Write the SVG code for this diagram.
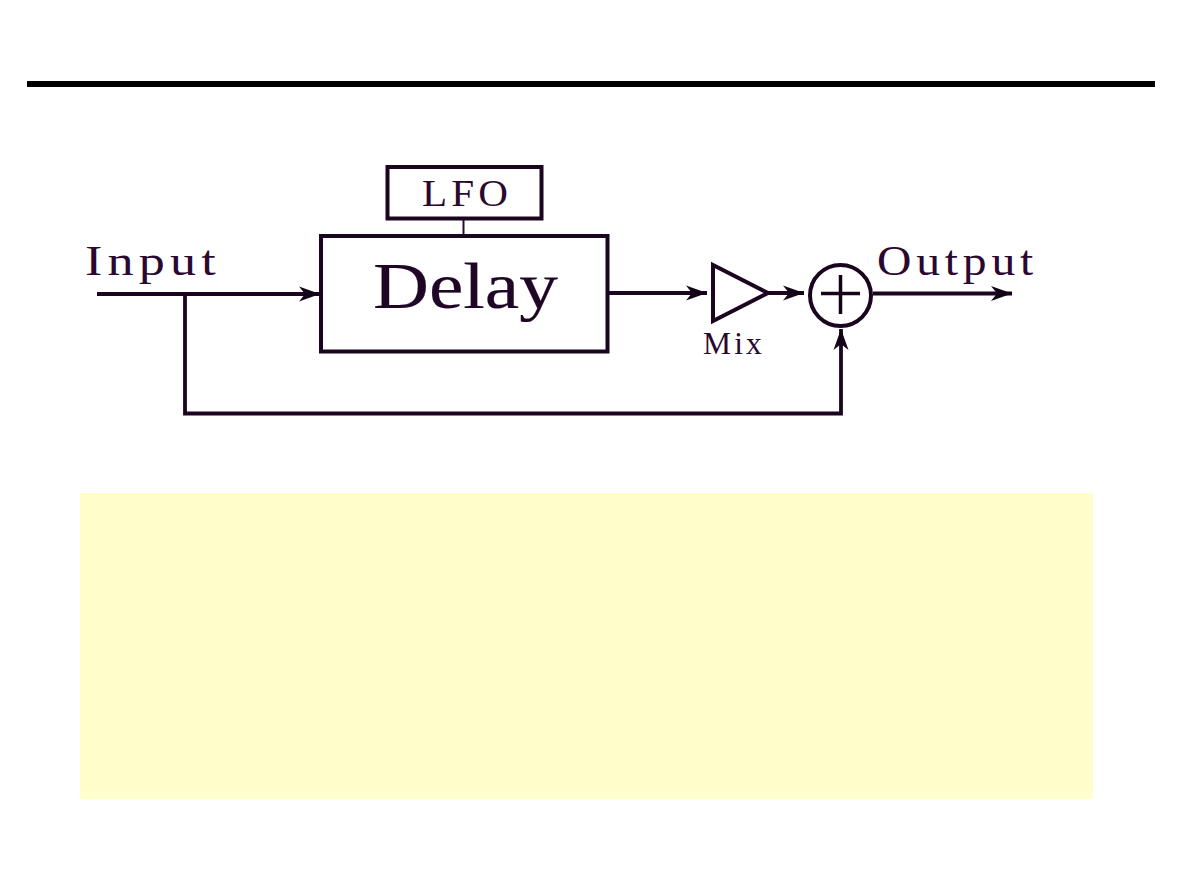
<svg xmlns="http://www.w3.org/2000/svg" width="1190" height="893" viewBox="0 0 1190 893">
<style>
.box{fill:#fff;stroke:#1a0420;stroke-width:4}
.wire{fill:none;stroke:#1a0420;stroke-width:3.8}
.lbl{font-family:"Liberation Serif","DejaVu Serif",serif;fill:#2a0830;letter-spacing:.1em}
</style>
<defs>
<marker id="arrow" markerUnits="userSpaceOnUse" markerWidth="24" markerHeight="18" refX="22" refY="9" orient="auto">
<path d="M1 1.500 L22 9 L1 16.500 L7 9 Z" fill="#140218"/>
</marker>
</defs>
<rect width="1190" height="893" fill="#fff"/>
<rect id="rule" x="27" y="81" width="1128" height="6" fill="#000"/>
<rect id="panel" x="80" y="493" width="1013" height="306" fill="#ffffcc"/>
<g id="connectors">
<path class="wire" d="M97 294H320" marker-end="url(#arrow)"/>
<path class="wire" d="M185 294V413.500H841V329" marker-end="url(#arrow)"/>
<path class="wire" d="M608 293H707" marker-end="url(#arrow)"/>
<path class="wire" d="M768 293H804" marker-end="url(#arrow)"/>
<path class="wire" d="M873 293.500H1012" marker-end="url(#arrow)"/>
<path d="M463.500 219V235" fill="none" stroke="#2a0830" stroke-width="2"/>
</g>
<g id="input-label"><text class="lbl" x="85" y="275" font-size="42" textLength="136" lengthAdjust="spacingAndGlyphs">Input</text></g>
<g id="lfo"><rect class="box" x="387.500" y="167" width="154" height="51.500"/>
<text class="lbl" x="422" y="206" font-size="38" textLength="90" lengthAdjust="spacingAndGlyphs">LFO</text></g>
<g id="delay"><rect class="box" x="321" y="236" width="286.500" height="115.500"/>
<text x="373" y="308" font-family="Liberation Serif,DejaVu Serif,serif" font-size="65" fill="#1f0626" stroke="#1f0626" stroke-width=".2" textLength="185" lengthAdjust="spacingAndGlyphs">Delay</text></g>
<g id="mix"><path class="box" d="M713 265V321L768 293Z" stroke-width="3"/>
<text class="lbl" x="703" y="354" font-size="32" textLength="62" lengthAdjust="spacingAndGlyphs">Mix</text></g>
<g id="sum"><circle class="box" cx="840.500" cy="295.500" r="30.500"/>
<path d="M821 293.500H860M840.500 275V314" fill="none" stroke="#140218" stroke-width="3.500"/></g>
<g id="output-label"><text class="lbl" x="877" y="274.500" font-size="42" textLength="161" lengthAdjust="spacingAndGlyphs">Output</text></g>
</svg>
